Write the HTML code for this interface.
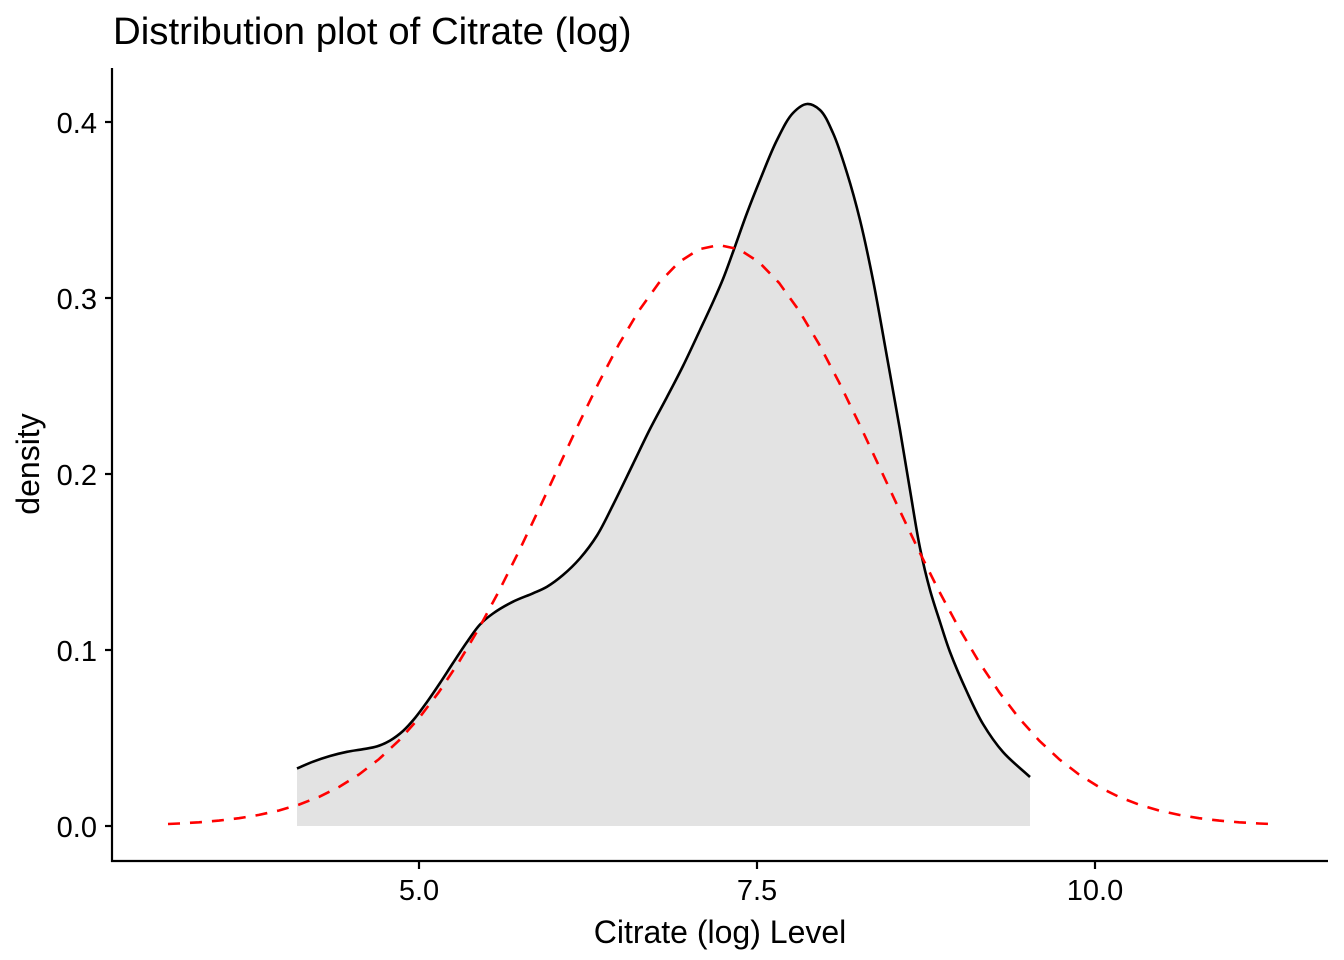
<!DOCTYPE html>
<html>
<head>
<meta charset="utf-8">
<style>
  html, body { margin:0; padding:0; background:#ffffff; }
  svg { display:block; }
  text { font-family: "Liberation Sans", Arial, sans-serif; fill:#000; }
</style>
</head>
<body>
<svg id="chart" width="1344" height="960" viewBox="0 0 1344 960" xmlns="http://www.w3.org/2000/svg">
  <rect x="0" y="0" width="1344" height="960" fill="#ffffff"/>

  <!-- density fill -->
  <polygon id="densFill" fill="#E3E3E3" stroke="none"
    points="297,768.5 313,761.7 330,756 347,751.8 363,749.2 377,746.4 390,740.6 403,731 415,718 427,702 440,683 453,663 467,642 480,624.5 493,613.5 513,601.7 533,593.3 547,586.7 563,575 580,558.3 597,535.5 613,505 633,464 650,429 667,397 683,366 700,330 713,302 723,279 733,252 747,213 760,180 777,140 793,113 807,104 820,110 833,133 847,173 860,220 873,280 887,357 900,430 910,490 920,548 930,590 940,622 950,652 967,692 983,724 1003,752 1030,777 1030,826 297,826"/>

  <!-- density line -->
  <polyline id="densLine" fill="none" stroke="#000" stroke-width="2.6" stroke-linejoin="round" stroke-linecap="butt"
    points="297,768.5 313,761.7 330,756 347,751.8 363,749.2 377,746.4 390,740.6 403,731 415,718 427,702 440,683 453,663 467,642 480,624.5 493,613.5 513,601.7 533,593.3 547,586.7 563,575 580,558.3 597,535.5 613,505 633,464 650,429 667,397 683,366 700,330 713,302 723,279 733,252 747,213 760,180 777,140 793,113 807,104 820,110 833,133 847,173 860,220 873,280 887,357 900,430 910,490 920,548 930,590 940,622 950,652 967,692 983,724 1003,752 1030,777"/>

  <!-- normal curve (red dashed) -->
  <polyline fill="none" stroke="#FF0000" stroke-width="2.6" stroke-dasharray="12 10" stroke-linejoin="round"
    points="168,824.0 179,823.5 199,822.3 219,820.6 239,818.2 259,814.9 279,810.5 299,804.6 319,796.9 339,787.0 359,774.5 379,759.1 399,740.4 419,718.1 439,691.9 459,661.9 479,628.2 499,591.0 519,551.1 539,509.0 559,466.1 579,423.3 599,382.2 619,344.1 639,310.5 659,282.8 679,262.1 699,249.3 719,245.0 739,249.3 759,262.1 779,282.8 799,310.5 819,344.1 839,382.2 859,423.3 879,466.1 899,509.0 919,551.1 939,591.0 959,628.2 979,661.9 999,691.9 1019,718.1 1039,740.4 1059,759.1 1079,774.5 1099,787.0 1119,796.9 1139,804.6 1159,810.5 1179,814.9 1199,818.2 1219,820.6 1239,822.3 1259,823.5 1273,824.1"/>

  <!-- axes -->
  <line x1="112" y1="68" x2="112" y2="862" stroke="#000" stroke-width="2.2"/>
  <line x1="111" y1="861" x2="1328" y2="861" stroke="#000" stroke-width="2.2"/>

  <!-- y ticks -->
  <g stroke="#000" stroke-width="2.2">
    <line x1="105" y1="826" x2="112" y2="826"/>
    <line x1="105" y1="650" x2="112" y2="650"/>
    <line x1="105" y1="474" x2="112" y2="474"/>
    <line x1="105" y1="298" x2="112" y2="298"/>
    <line x1="105" y1="122" x2="112" y2="122"/>
  </g>
  <g font-size="29" text-anchor="end">
    <text x="97" y="837">0.0</text>
    <text x="97" y="661">0.1</text>
    <text x="97" y="485">0.2</text>
    <text x="97" y="309">0.3</text>
    <text x="97" y="133">0.4</text>
  </g>

  <!-- x ticks -->
  <g stroke="#000" stroke-width="2.2">
    <line x1="419" y1="861" x2="419" y2="869"/>
    <line x1="757" y1="861" x2="757" y2="869"/>
    <line x1="1095" y1="861" x2="1095" y2="869"/>
  </g>
  <g font-size="29" text-anchor="middle">
    <text x="419" y="900">5.0</text>
    <text x="757" y="900">7.5</text>
    <text x="1095" y="900">10.0</text>
  </g>

  <!-- axis titles -->
  <text x="720" y="943" font-size="32" text-anchor="middle">Citrate (log) Level</text>
  <text transform="translate(39,464) rotate(-90)" font-size="32" text-anchor="middle">density</text>

  <!-- title -->
  <text x="113" y="44" font-size="38.4">Distribution plot of Citrate (log)</text>
</svg>
<script>
(function(){
  function parse(s){
    return s.trim().split(/\s+/).map(function(p){var a=p.split(',');return [parseFloat(a[0]),parseFloat(a[1])];});
  }
  function dist(a,b){var dx=a[0]-b[0],dy=a[1]-b[1];return Math.sqrt(dx*dx+dy*dy);}
  function crPath(pts){
    var d="M"+pts[0][0]+","+pts[0][1];
    var n=pts.length;
    for(var i=0;i<n-1;i++){
      var p1=pts[i], p2=pts[i+1];
      var p0=(i>0)?pts[i-1]:null, p3=(i+2<n)?pts[i+2]:null;
      var d2=Math.sqrt(dist(p1,p2));
      var c1,c2;
      if(p0){
        var d1=Math.sqrt(dist(p0,p1));
        var a=d1*d1, b=d2*d2, den=3*d1*(d1+d2);
        c1=[(a*p2[0]-b*p0[0]+(2*a+3*d1*d2+b)*p1[0])/den,
            (a*p2[1]-b*p0[1]+(2*a+3*d1*d2+b)*p1[1])/den];
      } else {
        c1=[p1[0]+(p2[0]-p1[0])/3, p1[1]+(p2[1]-p1[1])/3];
      }
      if(p3){
        var d3=Math.sqrt(dist(p2,p3));
        var a3=d3*d3, b3=d2*d2, den3=3*d3*(d3+d2);
        c2=[(a3*p1[0]-b3*p3[0]+(2*a3+3*d3*d2+b3)*p2[0])/den3,
            (a3*p1[1]-b3*p3[1]+(2*a3+3*d3*d2+b3)*p2[1])/den3];
      } else {
        c2=[p2[0]-(p2[0]-p1[0])/3, p2[1]-(p2[1]-p1[1])/3];
      }
      d+=" C"+c1[0].toFixed(2)+","+c1[1].toFixed(2)+" "+c2[0].toFixed(2)+","+c2[1].toFixed(2)+" "+p2[0]+","+p2[1];
    }
    return d;
  }
  try{
    var ns="http://www.w3.org/2000/svg";
    var line=document.getElementById("densLine");
    var fill=document.getElementById("densFill");
    var pts=parse(line.getAttribute("points"));
    var d=crPath(pts);
    var pl=document.createElementNS(ns,"path");
    pl.setAttribute("d",d);
    pl.setAttribute("fill","none");
    pl.setAttribute("stroke","#000");
    pl.setAttribute("stroke-width","2.6");
    line.parentNode.replaceChild(pl,line);
    var pf=document.createElementNS(ns,"path");
    pf.setAttribute("d",d+" L1030,826 L297,826 Z");
    pf.setAttribute("fill","#E3E3E3");
    fill.parentNode.replaceChild(pf,fill);
  }catch(e){}
})();
</script>
</body>
</html>
